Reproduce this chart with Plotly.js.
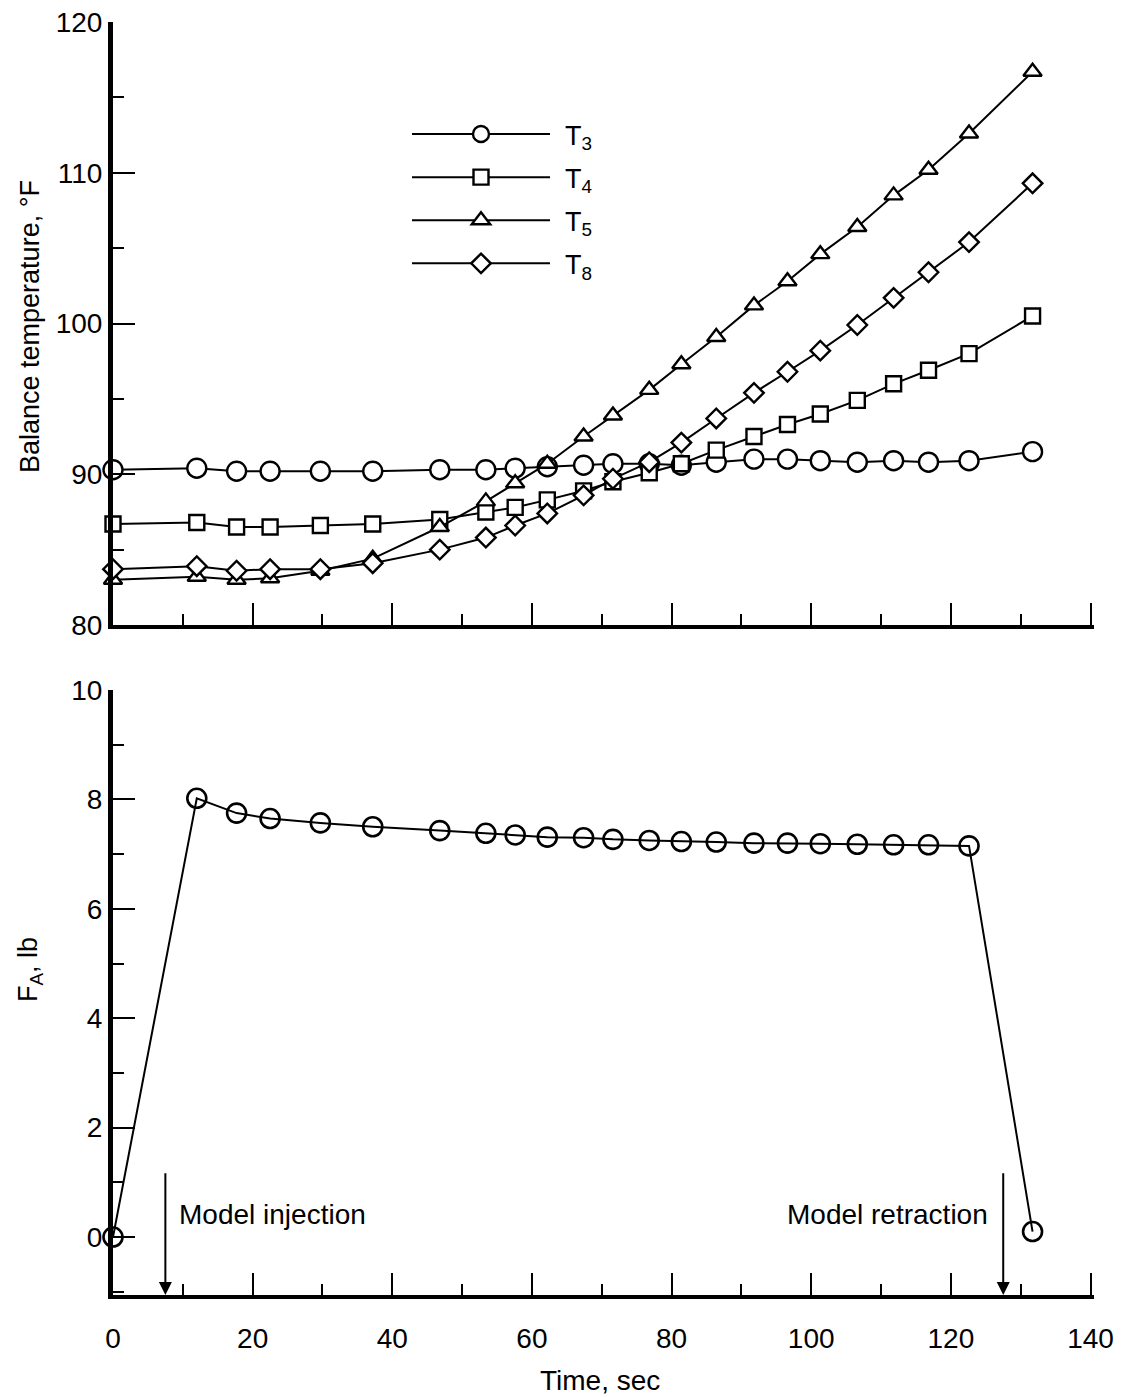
<!DOCTYPE html>
<html><head><meta charset="utf-8">
<script src="https://cdn.plot.ly/plotly-3.0.1.min.js"></script>
<style>html,body{margin:0;padding:0;background:#fff}</style>
</head><body><div id="chart" style="width:1125px;height:1397px"></div>
<script>
// ---- data ----
const time = [0, 12, 17.7, 22.5, 29.7, 37.2, 46.8, 53.4, 57.6, 62.2, 67.4, 71.6, 76.8, 81.4, 86.4, 91.8, 96.6, 101.3, 106.6, 111.8, 116.8, 122.6, 131.7];
const T3 = [90.3, 90.4, 90.2, 90.2, 90.2, 90.2, 90.3, 90.3, 90.4, 90.5, 90.6, 90.7, 90.7, 90.6, 90.8, 91.0, 91.0, 90.9, 90.8, 90.9, 90.8, 90.9, 91.5];
const T4 = [86.7, 86.8, 86.5, 86.5, 86.6, 86.7, 87.0, 87.5, 87.8, 88.3, 88.9, 89.5, 90.1, 90.7, 91.6, 92.5, 93.3, 94.0, 94.9, 96.0, 96.9, 98.0, 100.5];
const T5 = [83.0, 83.2, 83.0, 83.1, 83.6, 84.4, 86.5, 88.2, 89.4, 90.7, 92.5, 93.9, 95.6, 97.3, 99.1, 101.2, 102.8, 104.6, 106.4, 108.5, 110.2, 112.6, 116.7];
const T8 = [83.7, 83.9, 83.6, 83.7, 83.7, 84.1, 85.0, 85.8, 86.6, 87.4, 88.6, 89.7, 90.8, 92.1, 93.7, 95.4, 96.8, 98.2, 99.9, 101.7, 103.4, 105.4, 109.3];
const FA = [0, 8.02, 7.75, 7.65, 7.57, 7.5, 7.43, 7.38, 7.35, 7.31, 7.3, 7.27, 7.25, 7.23, 7.22, 7.2, 7.2, 7.19, 7.18, 7.17, 7.17, 7.15, 0.1];
const seriesNames = ['T<sub>3</sub>', 'T<sub>4</sub>', 'T<sub>5</sub>', 'T<sub>8</sub>'];
const seriesSymbols = ['circle', 'square', 'triangle-up', 'diamond'];
const eventTimes = [7.5, 127.5];
const eventLabels = ['Model injection', 'Model retraction'];

// ---- styling ----
const FONT = 'Liberation Sans, Arial, Helvetica, sans-serif';
const W = 1125, H = 1397;
const symbolSizes = [19, 15, 16, 15];
const tempSeries = [T3, T4, T5, T8];

const traces = tempSeries.map((vals, i) => ({
  x: time, y: vals, type: 'scatter', mode: 'lines+markers',
  name: seriesNames[i], legendgroup: 'g' + i,
  xaxis: 'x', yaxis: 'y', cliponaxis: false,
  line: {color: '#000', width: 2},
  marker: {symbol: seriesSymbols[i], size: symbolSizes[i], color: '#fff', line: {color: '#000', width: 2.4}}
}));
traces.push({
  x: time, y: FA, type: 'scatter', mode: 'lines+markers', showlegend: false,
  xaxis: 'x2', yaxis: 'y2', cliponaxis: false,
  line: {color: '#000', width: 2},
  marker: {symbol: 'circle-open', size: 19, color: '#000', line: {color: '#000', width: 2.6}}
});

const xdom = [113 / W, 1094 / W];
function xax(extra) {
  return Object.assign({
    domain: xdom, range: [0, 140.5], showline: true, linewidth: 4, linecolor: '#000',
    ticks: 'inside', ticklen: 22, tickwidth: 2, tickcolor: '#000', tick0: 0, dtick: 20,
    minor: {dtick: 10, ticklen: 11, tickwidth: 2, tickcolor: '#000', ticks: 'inside', showgrid: false},
    showgrid: false, zeroline: false,
    tickfont: {family: FONT, size: 28, color: '#000'}
  }, extra);
}
function yax(extra) {
  return Object.assign({
    showline: true, linewidth: 5, linecolor: '#000',
    ticks: 'inside', ticklen: 22, tickwidth: 2, tickcolor: '#000',
    showgrid: false, zeroline: false,
    tickfont: {family: FONT, size: 28, color: '#000'}
  }, extra);
}

const annotations = [
  {xref: 'paper', yref: 'paper', x: 30 / W, y: 1 - 327 / H, text: 'Balance temperature, °F', textangle: -90,
   showarrow: false, font: {family: FONT, size: 27, color: '#000'}, xanchor: 'center', yanchor: 'middle'},
  {xref: 'paper', yref: 'paper', x: 30 / W, y: 1 - 970 / H, text: 'F<sub>A</sub>, lb', textangle: -90,
   showarrow: false, font: {family: FONT, size: 27, color: '#000'}, xanchor: 'center', yanchor: 'middle'},
  {xref: 'paper', yref: 'paper', x: 600 / W, y: 1 - 1380 / H, text: 'Time, sec',
   showarrow: false, font: {family: FONT, size: 28, color: '#000'}, xanchor: 'center', yanchor: 'middle'}
];
eventTimes.forEach((t, i) => {
  annotations.push({xref: 'x2', yref: 'y2', axref: 'x2', ayref: 'y2', x: t, y: -1.06, ax: t, ay: 1.32,
    text: ' ', showarrow: true, arrowhead: 2, arrowsize: 1.3, arrowwidth: 2, arrowcolor: '#000', standoff: 0});
  annotations.push({xref: 'x2', yref: 'y2', x: i === 0 ? t + 1.7 : t - 1.9, y: 0.42, text: eventLabels[i],
    showarrow: false, xanchor: i === 0 ? 'left' : 'right', yanchor: 'middle',
    font: {family: FONT, size: 28, color: '#000'}});
});

const layout = {
  width: W, height: H, margin: {l: 0, r: 0, t: 0, b: 0},
  paper_bgcolor: '#fff', plot_bgcolor: 'rgba(0,0,0,0)',
  font: {family: FONT, color: '#000'},
  xaxis: xax({anchor: 'y', showticklabels: false}),
  yaxis: yax({anchor: 'x', domain: [1 - 625 / H, 1 - 22 / H], range: [80, 120], tick0: 80, dtick: 10,
    minor: {dtick: 5, ticklen: 11, tickwidth: 2, tickcolor: '#000', ticks: 'inside', showgrid: false}}),
  xaxis2: xax({anchor: 'y2', ticklabelstandoff: 15}),
  yaxis2: yax({anchor: 'x2', domain: [1 - 1295 / H, 1 - 690 / H], range: [-1.06, 10], tick0: 0, dtick: 2,
    minor: {dtick: 1, tick0: 0, ticklen: 11, tickwidth: 2, tickcolor: '#000', ticks: 'inside', showgrid: false}}),
  showlegend: true,
  legend: {x: 407 / W, y: 1 - 110 / H, xanchor: 'left', yanchor: 'top', bgcolor: 'rgba(0,0,0,0)',
    font: {family: FONT, size: 27, color: '#000'}, itemwidth: 148, tracegroupgap: 5, traceorder: 'grouped'},
  annotations: annotations
};

Plotly.newPlot('chart', traces, layout, {staticPlot: true}).then(gd => {
  // stretch legend sample lines to the long style of the original key
  gd.querySelectorAll('.legend .traces').forEach(tr => {
    tr.querySelectorAll('.legendlines path').forEach(p => p.setAttribute('d', 'M5,0h138'));
    tr.querySelectorAll('.legendpoints path').forEach(p => p.setAttribute('transform', 'translate(74,0)'));
  });
});
</script></body></html>
